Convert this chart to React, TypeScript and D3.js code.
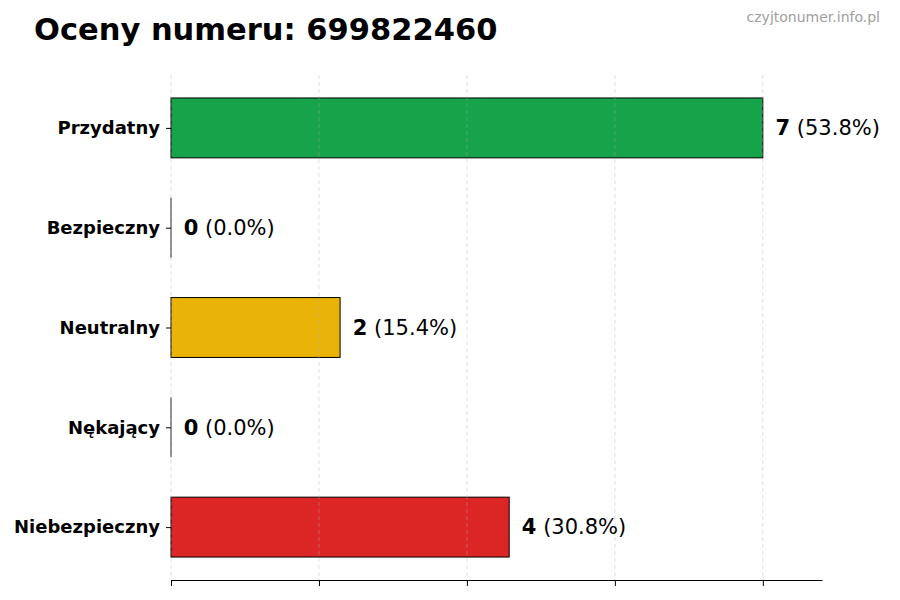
import React, { useEffect, useRef } from 'react';
import * as d3 from 'd3';

const categories = ['Przydatny', 'Bezpieczny', 'Neutralny', 'Nękający', 'Niebezpieczny'];
const counts = [7, 0, 2, 0, 4];
const percents = ['53.8%', '0.0%', '15.4%', '0.0%', '30.8%'];
const colors = ['#16a34a', '#16a34a', '#eab308', '#dc2626', '#dc2626'];
const xTicks = [0, 1.75, 3.5, 5.25, 7];

const WIDTH = 900;
const HEIGHT = 600;

const App: React.FC = () => {
  const svgRef = useRef<SVGSVGElement>(null);

  useEffect(() => {
    if (!svgRef.current) return;
    const svg = d3.select(svgRef.current);
    svg.selectAll('*').remove();

    const font = 'DejaVu Sans, sans-serif';
    const margin = { top: 75, right: 78, bottom: 20, left: 171 };
    const innerW = WIDTH - margin.left - margin.right;
    const innerH = HEIGHT - margin.top - margin.bottom;

    const maxVal = d3.max(counts) || 1;
    const xScale = d3.scaleLinear().domain([0, maxVal * 1.1]).range([0, innerW]);
    const yScale = d3
      .scaleLinear()
      .domain([-0.53, categories.length - 1 + 0.53])
      .range([0, innerH]);
    const barH = yScale(0.6) - yScale(0);

    svg.append('rect').attr('width', WIDTH).attr('height', HEIGHT).attr('fill', '#fff');

    const g = svg.append('g').attr('transform', `translate(${margin.left},${margin.top})`);

    // Bars
    g.selectAll('.bar')
      .data(counts)
      .enter()
      .append('rect')
      .attr('x', xScale(0))
      .attr('y', (_, i) => yScale(i) - barH / 2)
      .attr('width', d => xScale(d) - xScale(0))
      .attr('height', barH)
      .attr('fill', (_, i) => colors[i])
      .attr('stroke', '#000')
      .attr('stroke-width', 1);

    // zero-width bars still show their edge
    g.selectAll('.zero')
      .data(counts.map((d, i) => ({ d, i })).filter(o => o.d === 0))
      .enter()
      .append('line')
      .attr('x1', xScale(0))
      .attr('x2', xScale(0))
      .attr('y1', o => yScale(o.i) - barH / 2)
      .attr('y2', o => yScale(o.i) + barH / 2)
      .attr('stroke', '#222')
      .attr('stroke-width', 1);

    // Grid (drawn on top, faint)
    g.selectAll('.grid')
      .data(xTicks)
      .enter()
      .append('line')
      .attr('x1', d => xScale(d))
      .attr('x2', d => xScale(d))
      .attr('y1', 0)
      .attr('y2', innerH)
      .attr('stroke', '#b0b0b0')
      .attr('stroke-opacity', 0.5)
      .attr('stroke-width', 0.8)
      .attr('stroke-dasharray', '4,3');

    // Value labels
    const labels = g
      .selectAll('.val')
      .data(counts)
      .enter()
      .append('text')
      .attr('x', d => xScale(d + 0.15))
      .attr('y', (_, i) => yScale(i))
      .attr('dy', '0.35em')
      .style('font-family', font)
      .style('font-size', '21px')
      .attr('fill', '#000');
    labels.append('tspan').style('font-weight', 'bold').text(d => `${d}`);
    labels.append('tspan').text((_, i) => ` (${percents[i]})`);

    // X axis
    const xAxis = g
      .append('g')
      .attr('transform', `translate(0,${innerH})`)
      .call(
        d3
          .axisBottom(xScale)
          .tickValues(xTicks)
          .tickSizeInner(6)
          .tickSizeOuter(0)
          .tickFormat(() => '')
      );
    xAxis.select('.domain').attr('stroke', '#000').attr('stroke-width', 1.2);
    xAxis.selectAll('.tick line').attr('stroke', '#000');

    // Y axis (ticks only)
    const yAxis = g
      .append('g')
      .call(
        d3
          .axisLeft(yScale)
          .tickValues(d3.range(categories.length))
          .tickSize(5)
          .tickPadding(6)
          .tickFormat(i => categories[i as number])
      );
    yAxis.select('.domain').remove();
    yAxis.selectAll('.tick line').attr('stroke', '#000');
    yAxis
      .selectAll('.tick text')
      .style('font-family', font)
      .style('font-size', '18px')
      .style('font-weight', 'bold')
      .attr('fill', '#000');

    // Title
    svg
      .append('text')
      .attr('x', 34)
      .attr('y', 40)
      .style('font-family', font)
      .style('font-size', '30.5px')
      .style('font-weight', 'bold')
      .attr('fill', '#000')
      .text('Oceny numeru: 699822460');

    // Watermark
    svg
      .append('text')
      .attr('x', 880)
      .attr('y', 22)
      .attr('text-anchor', 'end')
      .style('font-family', font)
      .style('font-size', '14px')
      .attr('fill', '#a0a0a0')
      .text('czyjtonumer.info.pl');
  }, []);

  return (
    <svg
      ref={svgRef}
      width={WIDTH}
      height={HEIGHT}
      style={{ position: 'absolute', left: 0, top: 0 }}
    />
  );
};

export default App;
